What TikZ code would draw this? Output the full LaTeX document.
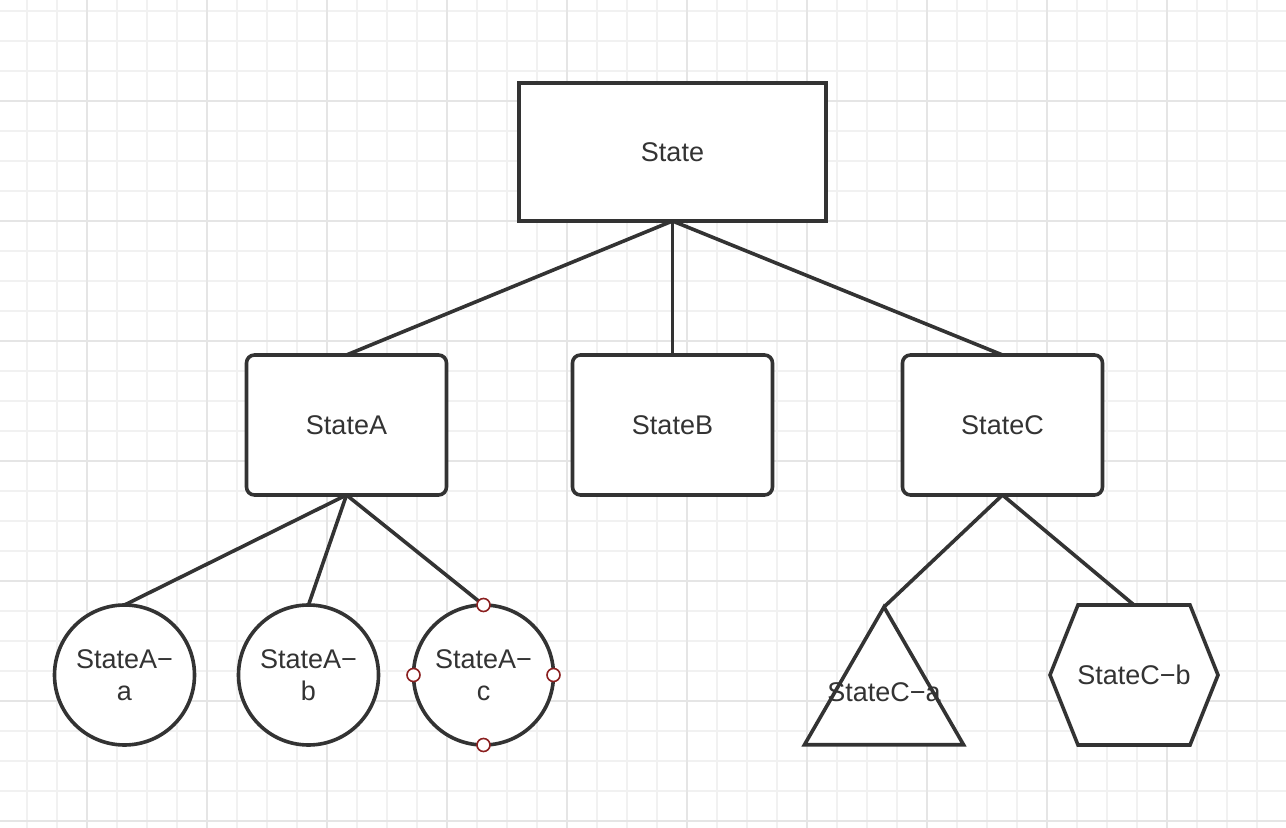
\documentclass[tikz,border=0pt]{standalone}
\usepackage{fontspec}
\setmainfont{Liberation Sans}
\usetikzlibrary{calc,shapes.geometric}

\definecolor{linegray}{HTML}{333333}
\definecolor{textgray}{HTML}{333333}
\definecolor{minorgrid}{HTML}{F1F1F1}
\definecolor{majorgrid}{HTML}{E5E5E5}
\definecolor{handlered}{HTML}{8B2020}

\begin{document}
\begin{tikzpicture}[x=1pt,y=1pt,text=textgray,font=\fontsize{13.5}{16}\selectfont,
                box node/.style={rectangle,draw=linegray,line width=1.8pt,fill=white,
                  minimum width=100pt,minimum height=70pt,inner sep=0pt,outer sep=0pt},
                leaf node/.style={circle,draw=linegray,line width=1.8pt,fill=white,
                  minimum size=70pt,inner sep=0pt,outer sep=0pt,align=center},
                tri node/.style={regular polygon,regular polygon sides=3,draw=linegray,
                  line width=1.8pt,fill=white,minimum size=91.8pt,inner sep=0pt,outer sep=0pt},
                hex node/.style={rectangle,minimum width=84pt,minimum height=70pt,
                  inner sep=0pt,outer sep=0pt},
                handle/.style={circle,draw=handlered,fill=white,line width=0.8pt,
                  minimum size=6.5pt,inner sep=0pt},
                link/.style={draw=linegray,line width=1.8pt}]
	\useasboundingbox[fill=white] (0,0) rectangle (643,-414);
	% grid paper
	\draw[minorgrid,line width=1pt,shift={(13.5,-5.5)}] (-13.5,-408.5) grid[step=15pt] (629.5,5.5);
	\draw[majorgrid,line width=1pt,shift={(43.5,-50.5)}] (-43.5,-363.5) grid[step=60pt] (599.5,50.5);

	\node[box node,minimum width=153.5pt,minimum height=69pt] (S) at (336.25,-76) {State};
	\node[box node,rounded corners=4pt] (B) [node distance=136.5pt,below of = S] {StateB};
	\node[box node,rounded corners=4pt] (A) [node distance=163pt,left of = B] {StateA};
	\node[box node,rounded corners=4pt] (C) [node distance=165pt,right of = B] {StateC};

	\node[leaf node] (Ab) [node distance=125pt,below of = A,xshift=-19pt] {StateA−\\b};
	\node[leaf node] (Aa) [node distance=92pt,left of = Ab] {StateA−\\a};
	\node[leaf node] (Ac) [node distance=87.5pt,right of = Ab] {StateA−\\c};

	\node[tri node] (Ca) [node distance=136.9pt,below of = C,xshift=-59.25pt] {};
	\node (Ca text) [yshift=3.4pt] at (Ca.center) {StateC−a};
	\node[hex node] (Cb) [node distance=125pt,below of = C,xshift=65.75pt] {};
	\draw[link,fill=white] ($(Cb.north west)+(14,0)$) -- ($(Cb.north east)+(-14,0)$) -- (Cb.east)
		-- ($(Cb.south east)+(-14,0)$) -- ($(Cb.south west)+(14,0)$) -- (Cb.west) -- cycle;
	\node (Cb text) at (Cb.center) {StateC−b};

	\path[link]
	(S.south) edge (A.north)
	(S.south) edge (B.north)
	(S.south) edge (C.north)
	(A.south) edge (Aa.north)
	(A.south) edge (Ab.north)
	(A.south) edge (Ac.north)
	(C.south) edge (Ca.north)
	(C.south) edge (Cb.north);

	\foreach \side in {north,east,south,west}
		\node[handle] (Ac \side) at (Ac.\side) {};

\end{tikzpicture}
\end{document}
